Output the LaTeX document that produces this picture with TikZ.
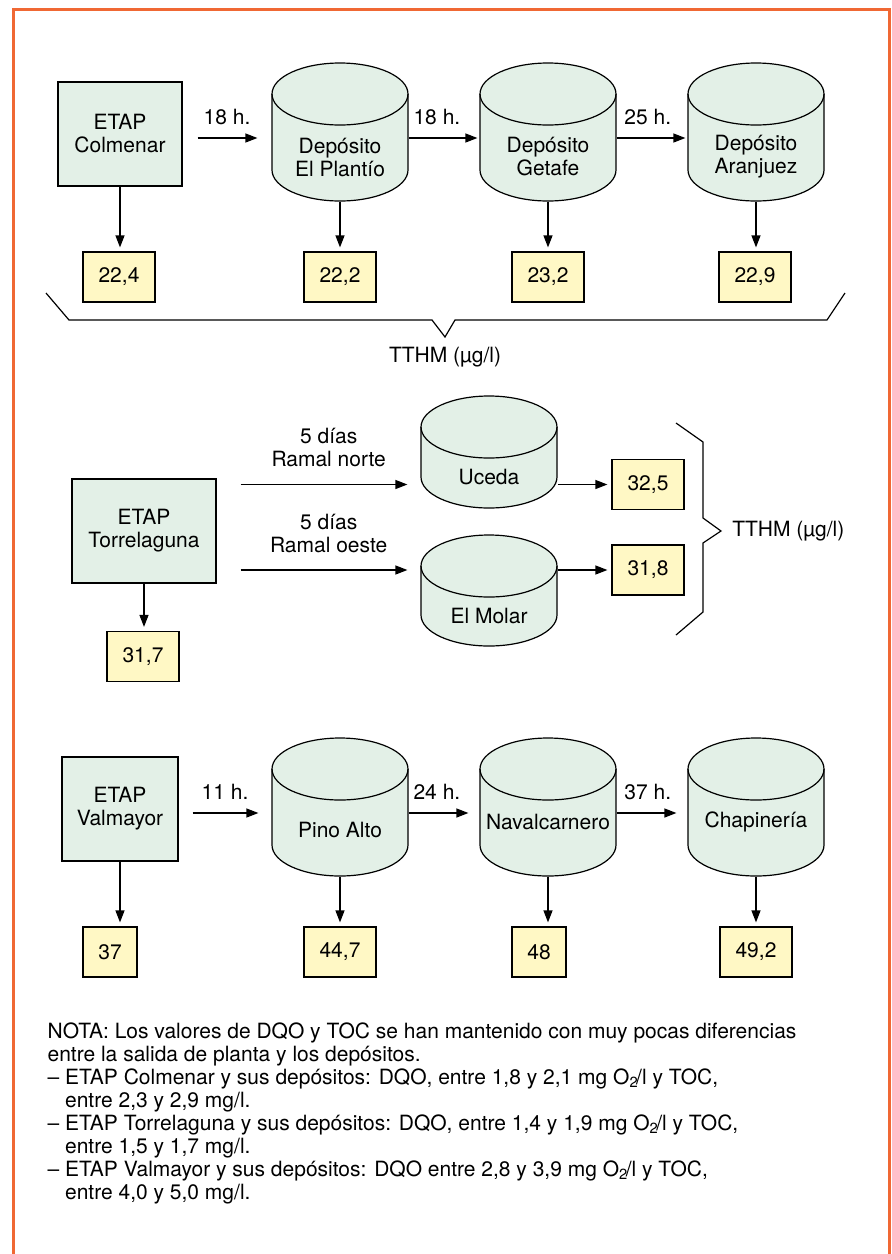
\documentclass[tikz,border=0pt]{standalone}
\usepackage{fontspec}
\setmainfont{TeX Gyre Heros}
\usepackage{tikz}
\usetikzlibrary{positioning}
\usetikzlibrary{arrows.meta}

\definecolor{plantgreen}{RGB}{227,240,231}
\definecolor{valueyellow}{RGB}{255,248,197}
\definecolor{frameorange}{RGB}{240,104,52}

% tank: name, centre x, top y, bottom y, text y, text
\newcommand\deposito[6]{%
  \path[draw, fill=plantgreen] (#2-68,#3+31) -- (#2-68,#4-31)
    arc[start angle=180, end angle=0, x radius=68, y radius=31] -- (#2+68,#3+31)
    arc[start angle=0, end angle=-180, x radius=68, y radius=31] -- cycle;
  \draw (#2-68,#3+31) arc[start angle=180, end angle=0, x radius=68, y radius=31];
  \node[inner sep=0pt, minimum width=68pt, minimum height={(#4-#3)*0.5pt}] (#1) at (#2,{(#3+#4)/2}) {};
  \node[align=center] (#1-txt) at (#2,#5) {#6};
}

\begin{document}
\begin{tikzpicture}[x=0.5pt, y=-0.5pt, line width=0.6pt,
  font=\fontsize{10.5}{11.5}\selectfont,
  etap/.style={draw, fill=plantgreen, minimum height=52pt, align=center},
  value/.style={draw, fill=valueyellow, minimum width=36pt, minimum height=25pt, inner sep=0pt},
  flow/.style={-{Triangle[length=6pt,width=4.5pt]}}]
\useasboundingbox (0,0) rectangle (891,1254);
\draw[frameorange, line width=1.5pt] (13,1260) -- (13,9.5) -- (889,9.5) -- (889,1260);

% Colmenar
\node[etap, minimum width=62pt] (colmenar) at (120,134) {ETAP\\Colmenar};
\deposito{plantio}{340}{63}{201}{157}{Depósito\\El Plantío}
\deposito{getafe}{548}{63}{201}{157}{Depósito\\Getafe}
\deposito{aranjuez}{756}{63}{201}{157}{Depósito\\Aranjuez}
\node[value] (v224) at (119,277) {22,4};
\node[value] (v222) at (340,277) {22,2};
\node[value] (v232) at (548,277) {23,2};
\node[value] (v229) at (755,277) {22,9};
\coordinate (row1) at (0,138);
\draw[flow, shorten <=7.5pt, shorten >=7pt] (colmenar.east |- row1) -- (plantio.west |- row1)
  node[midway, above=3pt] (t1) {18 h.};
\draw[flow, shorten >=1pt] (plantio.east |- row1) -- (getafe.west |- row1)
  node[pos=0.4, above=3pt] (t2) {18 h.};
\draw[flow, shorten >=1pt] (getafe.east |- row1) -- (aranjuez.west |- row1)
  node[pos=0.44, above=3pt] (t3) {25 h.};
\draw (46,293) -- (69,320) -- (432,320) -- (445,337) coordinate (brace1) -- (455,320) -- (827,320) -- (845,293);
\node (tthm1) at (445,357) {TTHM (µg/l)};

% Torrelaguna
\node[etap, minimum width=72pt] (torre) at (144,531) {ETAP\\Torrelaguna};
\deposito{uceda}{489}{396}{508}{477}{Uceda}
\deposito{molar}{489}{535}{646}{616}{El Molar}
\node[value] (v325) at (648,484.5) {32,5};
\node[value] (v318) at (648,570) {31,8};
\node[value] (v317) at (143,656.5) {31,7};
\draw[flow, shorten <=12pt, shorten >=6.5pt] (torre.east |- v325) -- (uceda.west |- v325)
  node[pos=0.55, above=5pt, align=center] (t4) {5 días\\Ramal norte};
\draw[flow, shorten <=12pt, shorten >=6.5pt] (torre.east |- v318) -- (molar.west |- v318)
  node[pos=0.55, above=5pt, align=center] (t5) {5 días\\Ramal oeste};
\draw[flow, shorten >=2pt] (uceda.east |- v325) -- (v325.west);
\draw[flow, shorten >=2pt] (molar.east |- v318) -- (v318.west);
\draw (676,423) -- (703,442) -- (703,518) -- (721,531) coordinate (brace2) -- (703,543) -- (703,612) -- (676,635);
\node[right=2pt of brace2] (tthm2) {TTHM (µg/l)};

% Valmayor
\node[etap, minimum width=58pt] (valmayor) at (120,809) {ETAP\\Valmayor};
\deposito{pino}{340}{738}{876}{830}{Pino Alto}
\deposito{naval}{548}{738}{876}{822}{Navalcarnero}
\deposito{chapi}{756}{738}{876}{822}{Chapinería}
\node[value, minimum width=27pt] (v37) at (110,952) {37};
\node[value] (v447) at (340,952) {44,7};
\node[value, minimum width=27pt] (v48) at (539,952) {48};
\node[value] (v492) at (756,952) {49,2};
\coordinate (row3) at (0,813);
\draw[flow, shorten <=7pt, shorten >=6.5pt] (valmayor.east |- row3) -- (pino.west |- row3)
  node[midway, above=3pt] (t6) {11 h.};
\draw[flow, shorten >=5.5pt] (pino.east |- row3) -- (naval.west |- row3)
  node[pos=0.4, above=3pt] (t7) {24 h.};
\draw[flow, shorten >=5.5pt] (naval.east |- row3) -- (chapi.west |- row3)
  node[pos=0.44, above=3pt] (t8) {37 h.};

\foreach \a/\b in {colmenar/v224, plantio/v222, getafe/v232, aranjuez/v229,
    torre/v317, valmayor/v37, pino/v447, naval/v48, chapi/v492}
  \draw[flow, shorten >=2pt] (\a.south) -- (\a.south |- \b.north);

\node[anchor=north west, inner sep=0pt, align=left] (nota) at (47,1022) {%
NOTA: Los valores de DQO y TOC se han mantenido con muy pocas diferencias\\
entre la salida de planta y los depósitos.\\
– ETAP Colmenar y sus depósitos: DQO, entre 1,8 y 2,1 mg O\textsubscript{2}\kern-0.12em/l y TOC,\\
\phantom{– }entre 2,3 y 2,9 mg/l.\\
– ETAP Torrelaguna y sus depósitos: DQO, entre 1,4 y 1,9 mg O\textsubscript{2}\kern-0.12em/l y TOC,\\
\phantom{– }entre 1,5 y 1,7 mg/l.\\
– ETAP Valmayor y sus depósitos: DQO entre 2,8 y 3,9 mg O\textsubscript{2}\kern-0.12em/l y TOC,\\
\phantom{– }entre 4,0 y 5,0 mg/l.};
\end{tikzpicture}
\end{document}
